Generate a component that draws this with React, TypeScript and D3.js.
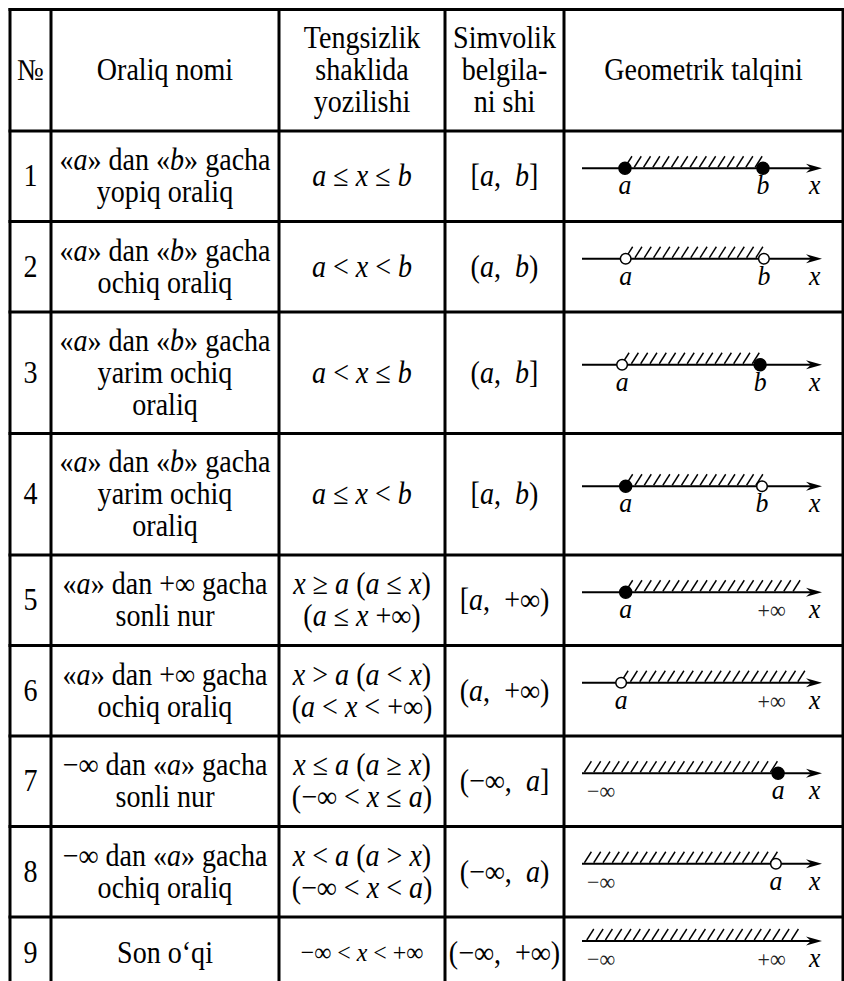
import React from 'react';
import * as d3 from 'd3';

// table content
const headerLabels = [
  ['№'],
  ['Oraliq nomi'],
  ['Tengsizlik', 'shaklida', 'yozilishi'],
  ['Simvolik', 'belgila-', 'ni shi'],
  ['Geometrik talqini'],
];
const rowNumbers = ['1', '2', '3', '4', '5', '6', '7', '8', '9'];
const intervalNames = [
  ['«a» dan «b» gacha', 'yopiq oraliq'],
  ['«a» dan «b» gacha', 'ochiq oraliq'],
  ['«a» dan «b» gacha', 'yarim ochiq', 'oraliq'],
  ['«a» dan «b» gacha', 'yarim ochiq', 'oraliq'],
  ['«a» dan +∞ gacha', 'sonli nur'],
  ['«a» dan +∞ gacha', 'ochiq oraliq'],
  ['−∞ dan «a» gacha', 'sonli nur'],
  ['−∞ dan «a» gacha', 'ochiq oraliq'],
  ['Son o‘qi'],
];
const inequalities = [
  ['a ≤ x ≤ b'],
  ['a < x < b'],
  ['a < x ≤ b'],
  ['a ≤ x < b'],
  ['x ≥ a (a ≤ x)', '(a ≤ x +∞)'],
  ['x > a (a < x)', '(a < x < +∞)'],
  ['x ≤ a (a ≥ x)', '(−∞ < x ≤ a)'],
  ['x < a (a > x)', '(−∞ < x < a)'],
  ['−∞ < x < +∞'],
];
const notations = ['[a,  b]', '(a,  b)', '(a,  b]', '[a,  b)', '[a,  +∞)', '(a,  +∞)', '(−∞,  a]', '(−∞,  a)', '(−∞,  +∞)'];

// number line: endpoint kinds, positions (axis units 0..100) and labels
const leftKinds = ['closed', 'open', 'open', 'closed', 'closed', 'open', 'inf', 'inf', 'inf'];
const rightKinds = ['closed', 'open', 'closed', 'open', 'inf', 'inf', 'closed', 'open', 'inf'];
const leftValues = [17.9, 18.2, 16.7, 18.2, 18.2, 16.3, 1, 1, 2];
const rightValues = [75.4, 75.8, 74.2, 75, 91, 90, 81.7, 80.8, 90];
const leftLabels = ['a', 'a', 'a', 'a', 'a', 'a', '−∞', '−∞', '−∞'];
const rightLabels = ['b', 'b', 'b', 'b', '+∞', '+∞', 'a', 'a', '+∞'];

const W = 844;
const H = 981;
const FONT = 'Liberation Serif';
const SQUEEZE = 0.92;
const colEdges = [10, 51, 279, 445, 564, 843];
const tableTop = 9.5;
const headerH = 121.5;
const rowH = (n: number) => (n >= 3 ? 121.5 : n === 2 ? 90.5 : 72);

function Rich({ text, x, y, size, italicVars }: { text: string; x: number; y: number; size: number; italicVars: boolean }) {
  const parts = italicVars ? text.split(/\b([abx])\b/) : [text];
  return (
    <text transform={`translate(${x},${y}) scale(${SQUEEZE},1)`} fontSize={size} textAnchor="middle"
      style={{ whiteSpace: 'pre', fontFamily: FONT }}>
      {parts.map((p, i) =>
        i % 2 === 1 ? (
          <tspan key={i} fontStyle="italic">{p}</tspan>
        ) : (
          <tspan key={i}>{p}</tspan>
        )
      )}
    </text>
  );
}

function Cell({ lines, cx, cy, size = 30.5, lh = 32, italicVars = true }: { lines: string[]; cx: number; cy: number; size?: number; lh?: number; italicVars?: boolean }) {
  const y0 = cy - ((lines.length - 1) * lh) / 2 + size * 0.32;
  return (
    <g>
      {lines.map((l, i) => (
        <Rich key={i} text={l} x={cx} y={y0 + i * lh} size={size} italicVars={italicVars} />
      ))}
    </g>
  );
}

function Label({ x, y, s }: { x: number; y: number; s: string }) {
  const isVar = /^[abx]$/.test(s);
  return (
    <text transform={`translate(${x},${y}) scale(${SQUEEZE},1)`} textAnchor="middle"
      fontSize={isVar ? 28 : 24} fontStyle={isVar ? 'italic' : 'normal'}
      fill={isVar ? '#000' : '#222'} style={{ fontFamily: FONT }}>
      {s}
    </text>
  );
}

function NumberLine({ i, y }: { i: number; y: number }) {
  const x = d3.scaleLinear().domain([0, 100]).range([582, 822]);
  const step = 9.3;
  const lk = leftKinds[i];
  const rk = rightKinds[i];
  const x0 = x(leftValues[i]);
  const x1 = x(rightValues[i]);
  const hatchBases = d3.range(x0, x1 + 0.5, step);
  const hatch = d3.line<[number, number]>();
  const tip = x(100);
  const labelY = y + 26;
  return (
    <g>
      <line x1={x(0)} x2={tip - 8} y1={y} y2={y} stroke="#000" strokeWidth={1.8} />
      <path d={`M${tip},${y} L${tip - 16},${y - 4.5} L${tip - 11},${y} L${tip - 16},${y + 4.5} Z`} fill="#000" />
      {hatchBases.map((b, k) => (
        <path key={k} d={hatch([[b, y - 1], [b + 7, y - 12]]) || ''} stroke="#000" strokeWidth={1.4} fill="none" />
      ))}
      {lk !== 'inf' && (
        <circle cx={x0} cy={y} r={lk === 'closed' ? 6 : 5.3} fill={lk === 'closed' ? '#000' : '#fff'} stroke="#000" strokeWidth={1.5} />
      )}
      {rk !== 'inf' && (
        <circle cx={x1} cy={y} r={rk === 'closed' ? 6 : 5.3} fill={rk === 'closed' ? '#000' : '#fff'} stroke="#000" strokeWidth={1.5} />
      )}
      <Label x={lk === 'inf' ? x(8) : x0} y={labelY} s={leftLabels[i]} />
      <Label x={rk === 'inf' ? x(79) : x1} y={labelY} s={rightLabels[i]} />
      <Label x={x(97)} y={labelY} s="x" />
    </g>
  );
}

export default function App() {
  const heights = [headerH, ...intervalNames.map((n, i) => rowH(Math.max(n.length, inequalities[i].length)))];
  const tops = [tableTop];
  heights.forEach((h, i) => tops.push(tops[i] + h));
  const colCenters = colEdges.slice(0, -1).map((e, i) => (e + colEdges[i + 1]) / 2);
  const bottom = Math.min(tops[tops.length - 1], H + 10);

  return (
    <div style={{ position: 'absolute', left: 0, top: 0 }}>
      <svg width={W} height={H} style={{ display: 'block', background: '#fff' }}>
        {/* header */}
        {headerLabels.map((lines, c) => (
          <Cell key={c} lines={lines} cx={colCenters[c]} cy={tops[0] + headerH / 2} italicVars={false} />
        ))}
        {rowNumbers.map((num, r) => {
          const cy = tops[r + 1] + heights[r + 1] / 2;
          const small = r === 8;
          return (
            <g key={r}>
              <Cell lines={[num]} cx={colCenters[0]} cy={cy} italicVars={false} />
              <Cell lines={intervalNames[r]} cx={colCenters[1]} cy={cy} />
              <Cell lines={inequalities[r]} cx={colCenters[2]} cy={cy} size={small ? 26 : 30.5} />
              <Cell lines={[notations[r]]} cx={colCenters[3]} cy={cy} />
              <NumberLine i={r} y={cy - (small ? 12 : 8)} />
            </g>
          );
        })}
        {/* grid */}
        {tops.slice(0, -1).map((t, i) => (
          <line key={'h' + i} x1={colEdges[0] - 1.5} x2={colEdges[5] + 1.5} y1={t} y2={t} stroke="#000" strokeWidth={3} />
        ))}
        {colEdges.map((e, i) => (
          <line key={'v' + i} x1={e} x2={e} y1={tableTop - 1.5} y2={bottom} stroke="#000" strokeWidth={3} />
        ))}
      </svg>
    </div>
  );
}
